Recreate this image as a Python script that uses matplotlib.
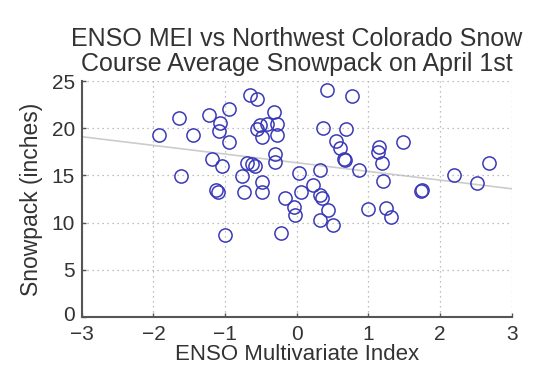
import numpy as np
import matplotlib
matplotlib.use("Agg")
import matplotlib.pyplot as plt
from matplotlib.transforms import ScaledTranslation

plt.rcParams['font.family'] = ['Liberation Sans', 'DejaVu Sans']

mei = [-1.92, -1.64, -1.45, -1.61, -1.22, -0.95, -1.07, -1.09, -0.95, -1.18,
       -1.04, -1.12, -1.10, -1.00, -0.65, -0.56, -0.32, -0.28, -0.42, -0.51,
       -0.56, -0.49, -0.28, -0.30, -0.30, -0.69, -0.62, -0.58, -0.76, -0.49,
       -0.74, -0.49, -0.16, -0.04, -0.03, -0.22,
       0.03, 0.32, 0.23, 0.06, 0.33, 0.35, 0.43, 0.32, 0.51, 0.42,
       0.77, 0.36, 0.69, 0.55, 0.61, 0.68, 0.66, 0.87, 1.15, 1.13,
       1.48, 1.19, 1.20, 1.73, 1.75, 1.00, 1.25, 1.31, 2.20, 2.68, 2.51]
snow = [19.25, 21.1, 19.3, 14.9, 21.4, 22.1, 20.6, 19.7, 18.6, 16.8,
        16.0, 13.5, 13.2, 8.7, 23.5, 23.1, 21.7, 20.5, 20.5, 20.3,
        19.9, 19.1, 19.3, 17.3, 16.4, 16.3, 16.2, 16.0, 14.9, 14.3,
        13.3, 13.3, 12.6, 11.7, 10.8, 8.9,
        15.3, 15.6, 14.0, 13.2, 12.9, 12.6, 11.3, 10.3, 9.7, 24.1,
        23.4, 20.0, 19.9, 18.7, 17.9, 16.6, 16.8, 15.6, 18.0, 17.5,
        18.5, 16.3, 14.4, 13.4, 13.5, 11.4, 11.6, 10.6, 15.1, 16.3, 14.2]

x_ticks = [-3, -2, -1, 0, 1, 2, 3]
y_ticks = [0, 5, 10, 15, 20, 25]

fig = plt.figure(figsize=(5.45, 3.81), dpi=100)
ax = fig.add_axes([0.150, 0.168, 0.789, 0.619])

x = np.array(mei)
y = np.array(snow)
slope, intercept = np.polyfit(x, y, 1)
xl = np.array([x_ticks[0], x_ticks[-1]])
ax.plot(xl, slope * xl + intercept, color='#cccccc', lw=1.2, zorder=1)

ax.plot(x, y, linestyle='none', marker='o', markersize=9.5,
        markerfacecolor='none', markeredgecolor='#3a3ab8', markeredgewidth=1.1,
        zorder=3)

ax.set_xlim(-3, 3)
ax.set_ylim(0, 25)
ax.set_xticks(x_ticks)
ax.set_yticks(y_ticks)
ax.set_xticklabels([str(t).replace('-', '\u2212') for t in x_ticks])
ax.grid(True, linestyle=(0, (1, 3)), color='#aaaaaa', linewidth=0.9)
for s in ['top', 'right']:
    ax.spines[s].set_visible(False)
for s in ['left', 'bottom']:
    ax.spines[s].set_color('#555555')
    ax.spines[s].set_linewidth(1.5)
ax.tick_params(direction='in', length=3, width=1, colors='#555555',
               labelcolor='#333333', labelsize=15)
ax.tick_params(axis='y', pad=5)
ax.tick_params(axis='x', pad=6)

# nudge the lowest y tick label up a little so it clears the -3 label
fig.canvas.draw()
ylabels = ax.get_yticklabels()
ylabels[0].set_transform(ylabels[0].get_transform() +
                         ScaledTranslation(0, 3 / 100, fig.dpi_scale_trans))

ax.set_xlabel('ENSO Multivariate Index', fontsize=16, color='#333333', labelpad=0)
ax.set_ylabel('Snowpack (inches)', fontsize=16.5, color='#333333', labelpad=6)
ax.set_title('ENSO MEI vs Northwest Colorado Snow\nCourse Average Snowpack on April 1st',
             fontsize=18, color='#333333', pad=7, linespacing=1.05)

fig.savefig('out.png', dpi=100)
